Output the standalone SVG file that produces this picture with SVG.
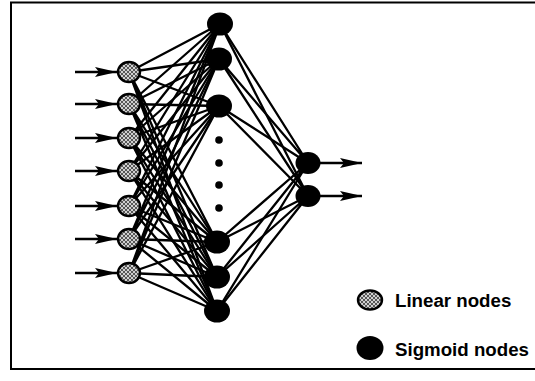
<svg xmlns="http://www.w3.org/2000/svg" width="535" height="381" viewBox="0 0 535 381">
<style>
.lin{fill:url(#hatch);stroke:#000;stroke-width:2.4}
.sig{fill:#000}
.c{stroke:#000;stroke-width:2.3;fill:none}
.arr{stroke:#000;stroke-width:2.4;fill:none}
.lbl{font-family:"Liberation Sans",Arial,sans-serif;font-weight:bold;font-size:18.7px;fill:#000}
</style>
<defs>
<pattern id="hatch" width="4" height="4" patternUnits="userSpaceOnUse">
<rect width="4" height="4" fill="#d0d0d0"/>
<path d="M0,0 L4,4 M4,0 L0,4" stroke="#4a4a4a" stroke-width="0.9"/>
</pattern>
<marker id="ah" markerWidth="24" markerHeight="12" refX="22" refY="6" orient="auto" markerUnits="userSpaceOnUse">
<path d="M0,1 L22,6 L0,11 L4,6 Z" fill="#000"/>
</marker>
</defs>
<rect width="535" height="381" fill="#fff"/>
<polyline points="535,2.5 11,2.5 11,369 535,369" fill="none" stroke="#000" stroke-width="2"/>

<g id="connectors">
<g id="in-hidden" class="c">
<path d="M129,72L220,24M129,72L219,59M129,72L219,106M129,72L217,242M129,72L217,277M129,72L217,311"/>
<path d="M129,104L220,24M129,104L219,59M129,104L219,106M129,104L217,242M129,104L217,277M129,104L217,311"/>
<path d="M129,138L220,24M129,138L219,59M129,138L219,106M129,138L217,242M129,138L217,277M129,138L217,311"/>
<path d="M129,171L220,24M129,171L219,59M129,171L219,106M129,171L217,242M129,171L217,277M129,171L217,311"/>
<path d="M129,206L220,24M129,206L219,59M129,206L219,106M129,206L217,242M129,206L217,277M129,206L217,311"/>
<path d="M129,239L220,24M129,239L219,59M129,239L219,106M129,239L217,242M129,239L217,277M129,239L217,311"/>
<path d="M129,273L220,24M129,273L219,59M129,273L219,106M129,273L217,242M129,273L217,277M129,273L217,311"/>
</g>
<g id="hidden-out" class="c">
<path d="M220,24L308,163M219,59L308,163M219,106L308,163M217,242L308,163M217,277L308,163M217,311L308,163"/>
<path d="M220,24L308,196M219,59L308,196M219,106L308,196M217,242L308,196M217,277L308,196M217,311L308,196"/>
</g>
<g id="inputs" class="arr">
<line x1="75" y1="72" x2="117" y2="72" marker-end="url(#ah)"/>
<line x1="75" y1="104" x2="117" y2="104" marker-end="url(#ah)"/>
<line x1="75" y1="138" x2="117" y2="138" marker-end="url(#ah)"/>
<line x1="75" y1="171" x2="117" y2="171" marker-end="url(#ah)"/>
<line x1="75" y1="206" x2="117" y2="206" marker-end="url(#ah)"/>
<line x1="75" y1="239" x2="117" y2="239" marker-end="url(#ah)"/>
<line x1="75" y1="273" x2="117" y2="273" marker-end="url(#ah)"/>
</g>
<g id="outputs" class="arr">
<line x1="320" y1="163" x2="362" y2="163" marker-end="url(#ah)"/>
<line x1="320" y1="196" x2="362" y2="196" marker-end="url(#ah)"/>
</g>
</g>

<g id="in1"><ellipse class="lin" cx="129" cy="72" rx="11" ry="10"/></g>
<g id="in2"><ellipse class="lin" cx="129" cy="104" rx="11" ry="10"/></g>
<g id="in3"><ellipse class="lin" cx="129" cy="138" rx="11" ry="10"/></g>
<g id="in4"><ellipse class="lin" cx="129" cy="171" rx="11" ry="10"/></g>
<g id="in5"><ellipse class="lin" cx="129" cy="206" rx="11" ry="10"/></g>
<g id="in6"><ellipse class="lin" cx="129" cy="239" rx="11" ry="10"/></g>
<g id="in7"><ellipse class="lin" cx="129" cy="273" rx="11" ry="10"/></g>

<g id="h1"><ellipse class="sig" cx="220" cy="24" rx="13" ry="11.5"/></g>
<g id="h2"><ellipse class="sig" cx="219" cy="59" rx="13" ry="11.5"/></g>
<g id="h3"><ellipse class="sig" cx="219" cy="106" rx="13" ry="11.5"/></g>
<g id="dots">
<circle class="sig" cx="219" cy="140" r="3.8"/>
<circle class="sig" cx="219" cy="163" r="3.8"/>
<circle class="sig" cx="219" cy="185" r="3.8"/>
<circle class="sig" cx="219" cy="208" r="3.8"/>
</g>
<g id="h4"><ellipse class="sig" cx="217" cy="242" rx="13" ry="11.5"/></g>
<g id="h5"><ellipse class="sig" cx="217" cy="277" rx="13" ry="11.5"/></g>
<g id="h6"><ellipse class="sig" cx="217" cy="311" rx="13" ry="11.5"/></g>

<g id="o1"><ellipse class="sig" cx="308" cy="163" rx="12.5" ry="11"/></g>
<g id="o2"><ellipse class="sig" cx="308" cy="196" rx="12.5" ry="11"/></g>

<g id="legend">
<ellipse class="lin" cx="370" cy="300" rx="12" ry="9.5"/>
<text class="lbl" x="395" y="307">Linear nodes</text>
<ellipse class="sig" cx="370" cy="348" rx="13.5" ry="12"/>
<text class="lbl" x="395" y="356">Sigmoid nodes</text>
</g>
</svg>
